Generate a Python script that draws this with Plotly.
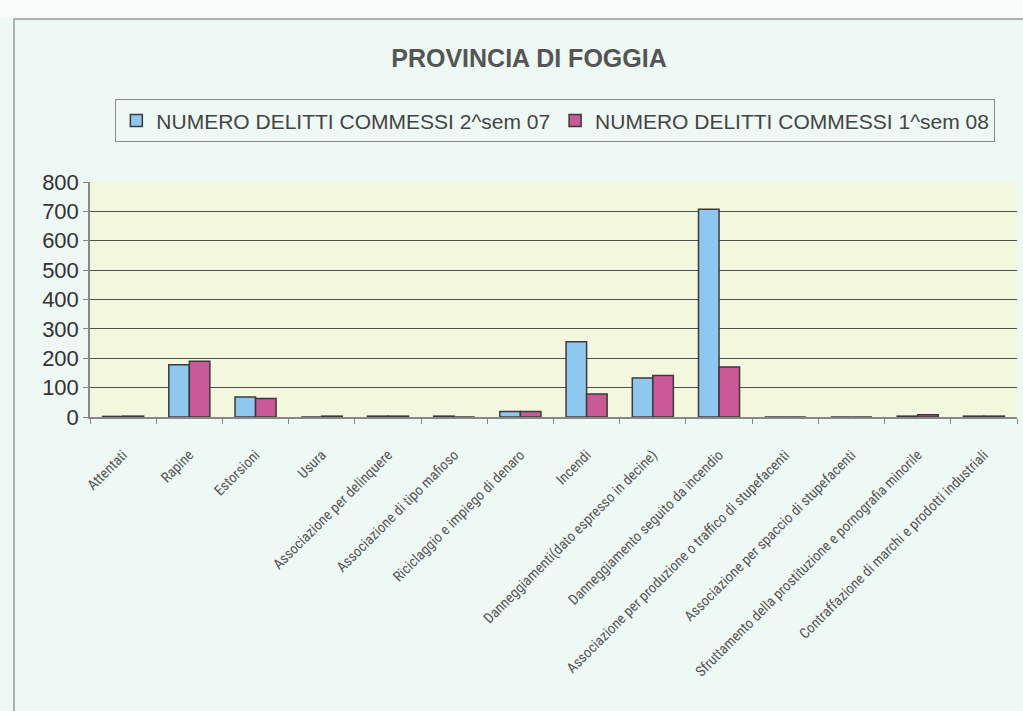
import plotly.graph_objects as go

categories = [
    "Attentati",
    "Rapine",
    "Estorsioni",
    "Usura",
    "Associazione per delinquere",
    "Associazione di tipo mafioso",
    "Riciclaggio e impiego di denaro",
    "Incendi",
    "Danneggiamenti(dato espresso in decine)",
    "Danneggiamento seguito da incendio",
    "Associazione per produzione o traffico di stupefacenti",
    "Associazione per spaccio di stupefacenti",
    "Sfruttamento della prostituzione e pornografia minorile",
    "Contraffazione di marchi e prodotti industriali",
]
sem2_07 = [2, 178, 68, 0, 3, 3, 19, 256, 133, 707, 0, 0, 3, 3]
sem1_08 = [3, 190, 63, 3, 3, 0, 19, 78, 141, 170, 0, 0, 8, 3]
series_names = ["NUMERO DELITTI COMMESSI 2^sem 07", "NUMERO DELITTI COMMESSI 1^sem 08"]
y_ticks = [0, 100, 200, 300, 400, 500, 600, 700, 800]

fig = go.Figure()
fig.add_trace(go.Bar(
    x=categories, y=sem2_07, name=series_names[0],
    marker=dict(color="#8ec8f0", line=dict(color="#3a3a3a", width=1.5)),
))
fig.add_trace(go.Bar(
    x=categories, y=sem1_08, name=series_names[1],
    marker=dict(color="#c95a97", line=dict(color="#3a3a3a", width=1.5)),
))

# outer frame of the chart area and the white strip above it
fig.add_shape(type="rect", xref="paper", yref="paper",
              x0=-0.2, x1=1.2, y0=1.70, y1=1.9,
              fillcolor="#f9fcfb", line=dict(width=0), layer="below")
fig.add_shape(type="rect", xref="paper", yref="paper",
              x0=-0.082, x1=1.02, y0=-1.4, y1=1.694,
              fillcolor="rgba(0,0,0,0)", line=dict(color="#9a9a9a", width=1.5))

fig.update_layout(
    width=1023, height=711,
    margin=dict(l=90, r=6, t=182, b=294),
    paper_bgcolor="#eef8f4",
    plot_bgcolor="#f3f7dd",
    barmode="group",
    bargap=0.38,
    bargroupgap=0.0,
    title=dict(
        text="<b>PROVINCIA DI FOGGIA</b>",
        x=529 / 1023, xanchor="center",
        y=1 - 58 / 711, yanchor="middle",
        font=dict(family="Liberation Sans, Arial, sans-serif", size=25, color="#555555"),
    ),
    legend=dict(
        orientation="h",
        x=0.502, xanchor="center",
        y=1.26, yanchor="middle",
        bgcolor="#eef8f4",
        bordercolor="#8a8a8a", borderwidth=1,
        font=dict(family="Liberation Sans, Arial, sans-serif", size=21, color="#444444"),
        itemwidth=30,
        tracegroupgap=0,
    ),
    font=dict(family="Liberation Sans, Arial, sans-serif", color="#444444"),
    showlegend=True,
)

fig.update_xaxes(
    type="category",
    tickangle=-45,
    tickfont=dict(family="Liberation Sans Narrow, Roboto Condensed, Liberation Sans, sans-serif",
                  size=14.5, color="#555555"),
    ticklabelstandoff=22,
    showline=True, linecolor="#888888", linewidth=1.5,
    ticks="outside", tickson="boundaries", ticklen=5, tickcolor="#888888",
    showgrid=False,
)
fig.update_yaxes(
    range=[0, 800],
    tickvals=y_ticks,
    tickfont=dict(family="Liberation Sans, Arial, sans-serif", size=22, color="#333333"),
    showline=True, linecolor="#888888", linewidth=1.5,
    showgrid=True, gridcolor="#505050", gridwidth=1.3,
    zeroline=False,
    ticks="outside", ticklen=5, tickcolor="#888888",
)

fig.write_html("out.html")
